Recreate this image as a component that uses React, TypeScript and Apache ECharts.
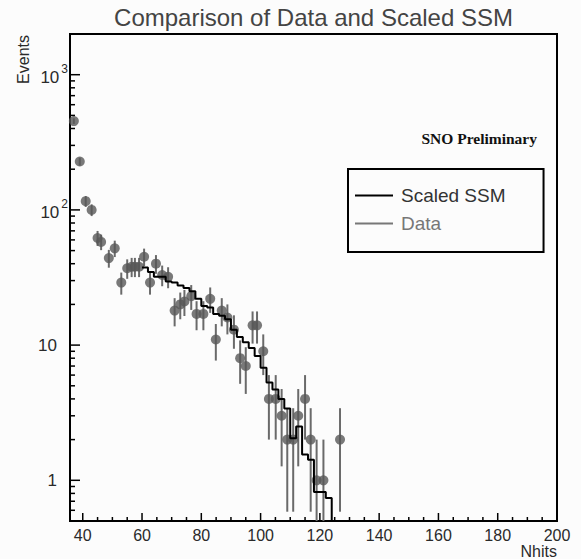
import { useEffect, useRef } from 'react';
import * as echarts from 'echarts';

// ---- axis ranges and ticks ----
const X_MIN = 35.7;
const X_MAX = 200;
const Y_MIN = 0.5;
const Y_MAX = 2000;
const X_MAJOR = [40, 60, 80, 100, 120, 140, 160, 180, 200];
const X_MINOR = [45, 50, 55, 65, 70, 75, 85, 90, 95, 105, 110, 115, 125, 130, 135, 145, 150, 155, 165, 170, 175, 185, 190, 195];
const Y_MAJOR = [1, 10, 100, 1000];
const Y_MAJOR_LABELS = ['1', '10', '10^2', '10^3'];
const Y_MINOR = [0.6, 0.7, 0.8, 0.9, 2, 3, 4, 5, 6, 7, 8, 9, 20, 30, 40, 50, 60, 70, 80, 90, 200, 300, 400, 500, 600, 700, 800, 900];

// ---- data points (Nhits, events) ----
const DATA_X = [37, 39, 41, 43, 45, 46.2, 48.8, 50.8, 53, 55, 56.5, 57.6, 59, 60.7, 62.7, 64.7, 66.8, 68.8, 71, 72.9, 74.3, 76.6, 78.4, 80.7, 83, 84.9, 86.9, 88.8, 91, 93.1, 95, 97.3, 98.8, 100.9, 102.8, 105.1, 107.1, 109, 111, 112.7, 115, 116.9, 118.9, 121.2, 126.8];
const DATA_N = [454, 228, 116, 100, 62, 58, 44, 52, 29, 37, 38, 38, 38, 45, 29, 40, 33, 32, 18, 20, 21, 23, 17, 17, 22, 11, 18, 16, 13, 8, 7, 14, 14, 9, 4, 4, 3, 2, 2, 3, 4, 2, 1, 1, 2];

// ---- scaled SSM histogram (bin left edges and contents) ----
const SSM_LEFT_EDGES = [60, 62, 64, 66, 68, 70, 72, 74, 76, 78, 80, 82, 84, 86, 88, 90, 92, 94, 96, 98, 100, 102, 104, 106, 108, 110, 112, 114, 116, 118, 120, 122];
const SSM_VALUES = [37.5, 34.7, 32, 32, 29.5, 29, 27.6, 26.5, 25, 22, 19.5, 19, 17, 16.5, 15.5, 13, 11.5, 10.5, 9.5, 8.3, 6.8, 5.3, 4.7, 4.0, 3.4, 2.05, 2.5, 1.55, 1.42, 0.82, 0.82, 0.74];
const SSM_RIGHT_EDGE = 124;

const FONT = '"Liberation Sans", Arial, Helvetica, sans-serif';
const TEXT = '#2a2a2a';

function buildOption() {
  const ssmData: number[][] = SSM_LEFT_EDGES.map((e, i) => [e, SSM_VALUES[i]]);
  ssmData.push([SSM_RIGHT_EDGE, Y_MIN]);

  const points = DATA_X.map((x, i) => [x, DATA_N[i]]);
  const errs = DATA_X.map((x, i) => {
    const n = DATA_N[i];
    const e = Math.sqrt(n);
    return [x, Math.max(n - e, Y_MIN), n + e];
  });

  const xTickData = [...X_MAJOR, ...X_MINOR].map((v) => [v, Y_MIN]);
  const yTickData = [...Y_MAJOR, ...Y_MINOR].map((v) => [X_MIN, v]);

  const yLabel = (v: number) => {
    const idx = Y_MAJOR.findIndex((t) => Math.abs(t - v) < 1e-6 * t);
    if (idx < 0) return '';
    const lab = Y_MAJOR_LABELS[idx];
    if (lab.includes('^')) {
      const [b, s] = lab.split('^');
      return `{b|${b}}{s|${s}}`;
    }
    return `{p|${lab}}`;
  };

  const isIn = (arr: number[], v: number) => arr.some((t) => Math.abs(t - v) < 1e-6 * Math.max(1, t));

  return {
    animation: false,
    backgroundColor: '#fcfcfc',
    title: {
      text: 'Comparison of Data and Scaled SSM',
      left: 313.5,
      top: 0,
      padding: [5, 0, 0, 0],
      textAlign: 'center',
      textStyle: { fontFamily: FONT, fontSize: 24, fontWeight: 'normal', color: '#444' },
    },
    legend: {
      orient: 'vertical',
      left: 348,
      top: 169,
      padding: [17, 38, 19, 7],
      itemGap: 9,
      itemWidth: 38,
      itemHeight: 2,
      borderColor: '#000',
      borderWidth: 2,
      textStyle: { fontFamily: FONT, fontSize: 19, color: '#333', padding: [0, 0, 0, 3] },
      data: [
        { name: 'Scaled SSM', icon: 'rect', itemStyle: { color: '#000' } },
        { name: 'Data', icon: 'rect', itemStyle: { color: '#777' }, textStyle: { color: '#777' } },
      ],
    },
    grid: {
      left: 70,
      right: 24,
      top: 34,
      bottom: 37,
      show: true,
      borderColor: '#000',
      borderWidth: 2,
      backgroundColor: 'transparent',
    },
    xAxis: {
      type: 'value',
      min: X_MIN,
      max: X_MAX,
      name: 'Nhits',
      nameLocation: 'end',
      nameGap: 0,
      nameTextStyle: { fontFamily: FONT, fontSize: 16, color: TEXT, align: 'right', verticalAlign: 'top', padding: [22, 0, 0, 0] },
      axisLine: { show: true, lineStyle: { color: '#000', width: 2 } },
      axisTick: { show: false },
      axisLabel: { show: true, customValues: X_MAJOR, margin: 6, fontFamily: FONT, fontSize: 16, color: TEXT },
      splitLine: { show: false },
    },
    yAxis: {
      type: 'log',
      logBase: 10,
      min: Y_MIN,
      max: Y_MAX,
      axisLine: { show: true, lineStyle: { color: '#000', width: 2 } },
      axisTick: { show: false },
      axisLabel: {
        show: true,
        customValues: Y_MAJOR,
        margin: 2,
        formatter: yLabel,
        rich: {
          b: { fontFamily: FONT, fontSize: 17, color: TEXT, padding: [6, 0, 0, 0], verticalAlign: 'bottom' },
          s: { fontFamily: FONT, fontSize: 12, color: TEXT, verticalAlign: 'top', padding: [0, 0, 0, 2] },
          p: { fontFamily: FONT, fontSize: 17, color: TEXT, padding: [0, 11, 0, 0] },
        },
      },
      splitLine: { show: false },
      minorTick: { show: false },
    },
    graphic: [
      {
        type: 'text',
        x: 23,
        y: 35,
        rotation: Math.PI / 2,
        style: { text: 'Events', fontFamily: FONT, fontSize: 16, fill: TEXT, align: 'right', verticalAlign: 'middle' },
      },
      {
        type: 'text',
        x: 537,
        y: 138,
        style: { text: 'SNO Preliminary', fontFamily: '"Liberation Serif", "Times New Roman", serif', fontWeight: 'bold', fontSize: 15.5, fill: '#111', align: 'right', verticalAlign: 'middle' },
      },
    ],
    series: [
      {
        name: 'xTicks',
        type: 'custom',
        data: xTickData,
        encode: { x: 0, y: 1 },
        clip: false,
        silent: true,
        z: 5,
        renderItem: (_params: any, api: any) => {
          const v = api.value(0);
          const p = api.coord([v, api.value(1)]);
          const len = isIn(X_MAJOR, v) ? 8 : 4;
          return { type: 'line', shape: { x1: p[0], y1: p[1], x2: p[0], y2: p[1] - len }, style: { stroke: '#000', lineWidth: 1.5 } };
        },
      },
      {
        name: 'yTicks',
        type: 'custom',
        data: yTickData,
        encode: { x: 0, y: 1 },
        clip: false,
        silent: true,
        z: 5,
        renderItem: (_params: any, api: any) => {
          const v = api.value(1);
          const p = api.coord([api.value(0), v]);
          const len = isIn(Y_MAJOR, v) ? 10 : 5;
          return { type: 'line', shape: { x1: p[0], y1: p[1], x2: p[0] + len, y2: p[1] }, style: { stroke: '#000', lineWidth: 1.5 } };
        },
      },
      {
        name: 'Scaled SSM',
        type: 'line',
        step: 'end',
        data: ssmData,
        showSymbol: false,
        symbol: 'none',
        color: '#000',
        lineStyle: { color: '#000', width: 2 },
      },
      {
        name: 'Data',
        type: 'custom',
        data: errs,
        color: '#777',
        encode: { x: 0, y: [1, 2] },
        clip: true,
        renderItem: (_params: any, api: any) => {
          const x = api.value(0);
          const p1 = api.coord([x, api.value(1)]);
          const p2 = api.coord([x, api.value(2)]);
          return {
            type: 'line',
            shape: { x1: p1[0], y1: p1[1], x2: p2[0], y2: p2[1] },
            style: { stroke: '#6a6a6a', lineWidth: 2 },
          };
        },
      },
      {
        name: 'Data',
        type: 'scatter',
        data: points,
        symbol: 'circle',
        symbolSize: 10,
        color: '#575757',
        itemStyle: { color: '#575757' },
      },
    ],
  };
}

export default function App() {
  const ref = useRef<HTMLDivElement>(null);
  useEffect(() => {
    if (!ref.current) return;
    const chart = echarts.init(ref.current, null, { renderer: 'svg' });
    chart.setOption(buildOption() as any);
    return () => chart.dispose();
  }, []);
  return <div ref={ref} style={{ position: 'absolute', left: 0, top: 0, width: 581, height: 559 }} />;
}
